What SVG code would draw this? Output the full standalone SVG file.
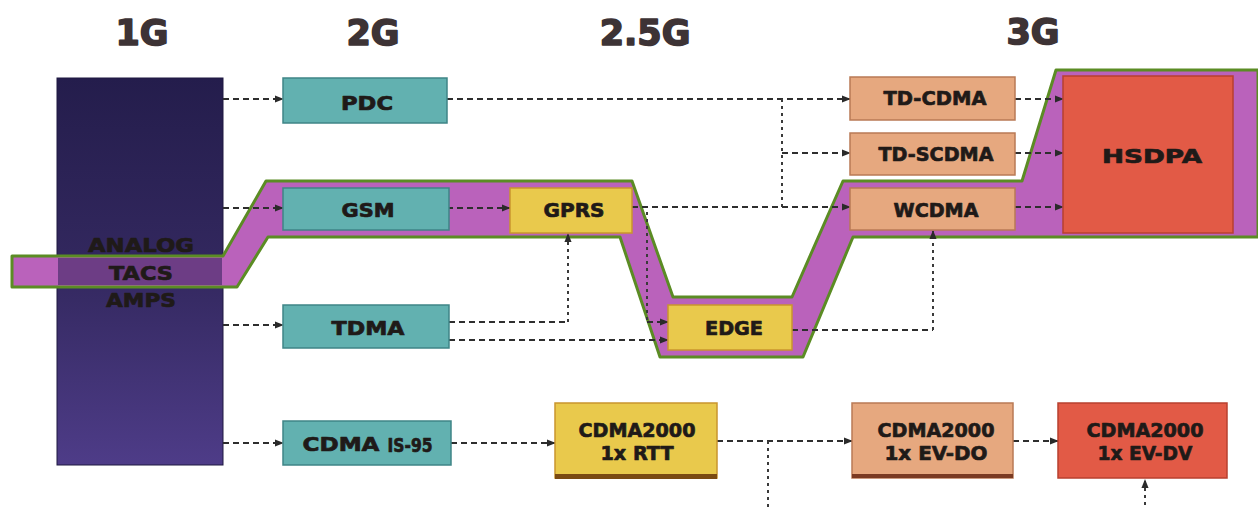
<svg xmlns="http://www.w3.org/2000/svg" width="1258" height="507" viewBox="0 0 1258 507">
<defs>
<linearGradient id="g1" x1="0" y1="0" x2="0" y2="1">
<stop offset="0" stop-color="#241d4c"/>
<stop offset="0.5" stop-color="#33285f"/>
<stop offset="1" stop-color="#4e3c88"/>
</linearGradient>
<marker id="arr" viewBox="0 0 10 10" refX="9" refY="5" markerWidth="9" markerHeight="9" markerUnits="userSpaceOnUse" orient="auto">
<path d="M0,1 L10,5 L0,9 z" fill="#2a2a2a"/>
</marker>
</defs>
<style>
.title{font-family:"DejaVu Sans",sans-serif;font-weight:bold;font-size:35px;fill:#3d3335;stroke:#3d3335;stroke-width:1.6;stroke-linejoin:round;text-anchor:middle}
.lbl{font-family:"DejaVu Sans",sans-serif;font-weight:bold;font-size:19px;fill:#1f1a18;stroke:#1f1a18;stroke-width:0.7;stroke-linejoin:round;text-anchor:middle}
.teal{fill:#62b1b0;stroke:#3f8587;stroke-width:1.5}
.yel{fill:#e9c94c;stroke:#c9952e;stroke-width:1.5}
.sal{fill:#e6a87f;stroke:#b97a55;stroke-width:1.5}
.red{fill:#e25a46;stroke:#b8402f;stroke-width:1.5}
.c{fill:none;stroke:#2e2e2e;stroke-width:2;stroke-dasharray:6 4}
.d{fill:none;stroke:#3a3a3a;stroke-width:2;stroke-dasharray:3 4}
.ah{marker-end:url(#arr)}
</style>

<g id="titles">
<text class="title" x="142" y="45">1G</text>
<text class="title" x="373" y="45">2G</text>
<text class="title" x="645" y="45">2.5G</text>
<text class="title" x="1033" y="44">3G</text>
</g>

<g id="node-1g">
<rect x="57" y="78" width="166" height="387" fill="url(#g1)" stroke="#1e1840" stroke-width="1"/>
</g>

<g id="band">
<path d="M12,256 L223,256 L266,181 L632,181 L673,297 L792,297 L843,181 L1022,181 L1056,70 L1258,70 L1258,237 L853,237 L803,357 L660,357 L620,237 L268,237 L237,287 L12,287 Z" fill="#ba62bb" stroke="#5b8c24" stroke-width="3" stroke-linejoin="round"/>
<rect x="58" y="258" width="164" height="27" fill="#2e1f5a" opacity="0.55"/>
</g>

<g id="node-1g-text">
<text class="lbl" x="141" y="252" font-size="20" textLength="106" lengthAdjust="spacingAndGlyphs" fill="#20182c" stroke="#20182c">ANALOG</text>
<text class="lbl" x="141" y="280" font-size="20" textLength="64" lengthAdjust="spacingAndGlyphs" fill="#20182c" stroke="#20182c">TACS</text>
<text class="lbl" x="141" y="307" font-size="20" textLength="70" lengthAdjust="spacingAndGlyphs" fill="#20182c" stroke="#20182c">AMPS</text>
</g>

<g id="connectors">
<path class="c ah" d="M223,99 H283"/>
<path class="c ah" d="M223,208 H283"/>
<path class="c ah" d="M223,325 H283"/>
<path class="c ah" d="M223,443 H283"/>
<path class="c ah" d="M447,99 H850"/>
<path class="d" d="M782,99 V207"/>
<path class="c ah" d="M782,153 H850"/>
<path class="c ah" d="M447,208 H510"/>
<path class="c ah" d="M632,207 H850"/>
<path class="d" d="M647,212 V322"/>
<path class="c ah" d="M647,322 H668"/>
<path class="c" d="M449,322 H568"/>
<path class="d ah" d="M568,322 V234"/>
<path class="c ah" d="M449,340 H668"/>
<path class="c" d="M792,330 H933"/>
<path class="d ah" d="M933,330 V231"/>
<path class="c ah" d="M451,443 H555"/>
<path class="c ah" d="M717,441 H852"/>
<path class="d" d="M768,441 V507"/>
<path class="c ah" d="M1013,441 H1058"/>
<path class="d ah" d="M1145,505 V480"/>
<path class="c ah" d="M1015,99 H1063"/>
<path class="c ah" d="M1015,153 H1063"/>
<path class="c ah" d="M1015,207 H1063"/>
</g>

<g id="node-pdc">
<rect class="teal" x="283" y="78" width="164" height="45"/>
<text class="lbl" x="367" y="110" textLength="52" lengthAdjust="spacingAndGlyphs">PDC</text>
</g>
<g id="node-gsm">
<rect class="teal" x="283" y="188" width="166" height="42"/>
<text class="lbl" x="368" y="217" textLength="53" lengthAdjust="spacingAndGlyphs">GSM</text>
</g>
<g id="node-tdma">
<rect class="teal" x="283" y="305" width="166" height="43"/>
<text class="lbl" x="368" y="335" textLength="73" lengthAdjust="spacingAndGlyphs">TDMA</text>
</g>
<g id="node-cdma">
<rect class="teal" x="283" y="421" width="168" height="44"/>
<text class="lbl" x="341" y="451" font-size="21" textLength="77" lengthAdjust="spacingAndGlyphs">CDMA</text>
<text class="lbl" x="410" y="452" font-size="12" stroke-width="0.4" textLength="45" lengthAdjust="spacingAndGlyphs">IS-95</text>
</g>
<g id="node-gprs">
<rect class="yel" x="510" y="188" width="122" height="45"/>
<text class="lbl" x="574" y="217" textLength="61" lengthAdjust="spacingAndGlyphs">GPRS</text>
</g>
<g id="node-edge">
<rect class="yel" x="668" y="305" width="124" height="45"/>
<text class="lbl" x="734" y="335" textLength="58" lengthAdjust="spacingAndGlyphs">EDGE</text>
</g>
<g id="node-rtt">
<rect class="yel" x="555" y="403" width="162" height="75" stroke="none"/>
<rect x="555" y="474" width="162" height="5" fill="#7a4a12"/>
<text class="lbl" x="637" y="437" textLength="117" lengthAdjust="spacingAndGlyphs">CDMA2000</text>
<text class="lbl" x="637" y="460" textLength="73" lengthAdjust="spacingAndGlyphs">1x RTT</text>
</g>
<g id="node-tdcdma">
<rect class="sal" x="850" y="77" width="165" height="43"/>
<text class="lbl" x="935" y="105" textLength="103" lengthAdjust="spacingAndGlyphs">TD-CDMA</text>
</g>
<g id="node-tdscdma">
<rect class="sal" x="850" y="133" width="165" height="42"/>
<text class="lbl" x="936" y="161" textLength="115" lengthAdjust="spacingAndGlyphs">TD-SCDMA</text>
</g>
<g id="node-wcdma">
<rect class="sal" x="850" y="188" width="165" height="42"/>
<text class="lbl" x="936" y="217" textLength="85" lengthAdjust="spacingAndGlyphs">WCDMA</text>
</g>
<g id="node-hsdpa">
<rect class="red" x="1063" y="76" width="170" height="157"/>
<text class="lbl" x="1152" y="163" font-size="26" textLength="100" lengthAdjust="spacingAndGlyphs">HSDPA</text>
</g>
<g id="node-evdo">
<rect class="sal" x="852" y="403" width="161" height="75" stroke="none"/>
<rect x="852" y="474" width="161" height="4" fill="#7a3a22"/>
<text class="lbl" x="936" y="437" textLength="117" lengthAdjust="spacingAndGlyphs">CDMA2000</text>
<text class="lbl" x="936" y="460" textLength="103" lengthAdjust="spacingAndGlyphs">1x EV-DO</text>
</g>
<g id="node-evdv">
<rect class="red" x="1058" y="403" width="169" height="75"/>
<text class="lbl" x="1145" y="437" textLength="117" lengthAdjust="spacingAndGlyphs">CDMA2000</text>
<text class="lbl" x="1145" y="460" textLength="95" lengthAdjust="spacingAndGlyphs">1x EV-DV</text>
</g>
</svg>
